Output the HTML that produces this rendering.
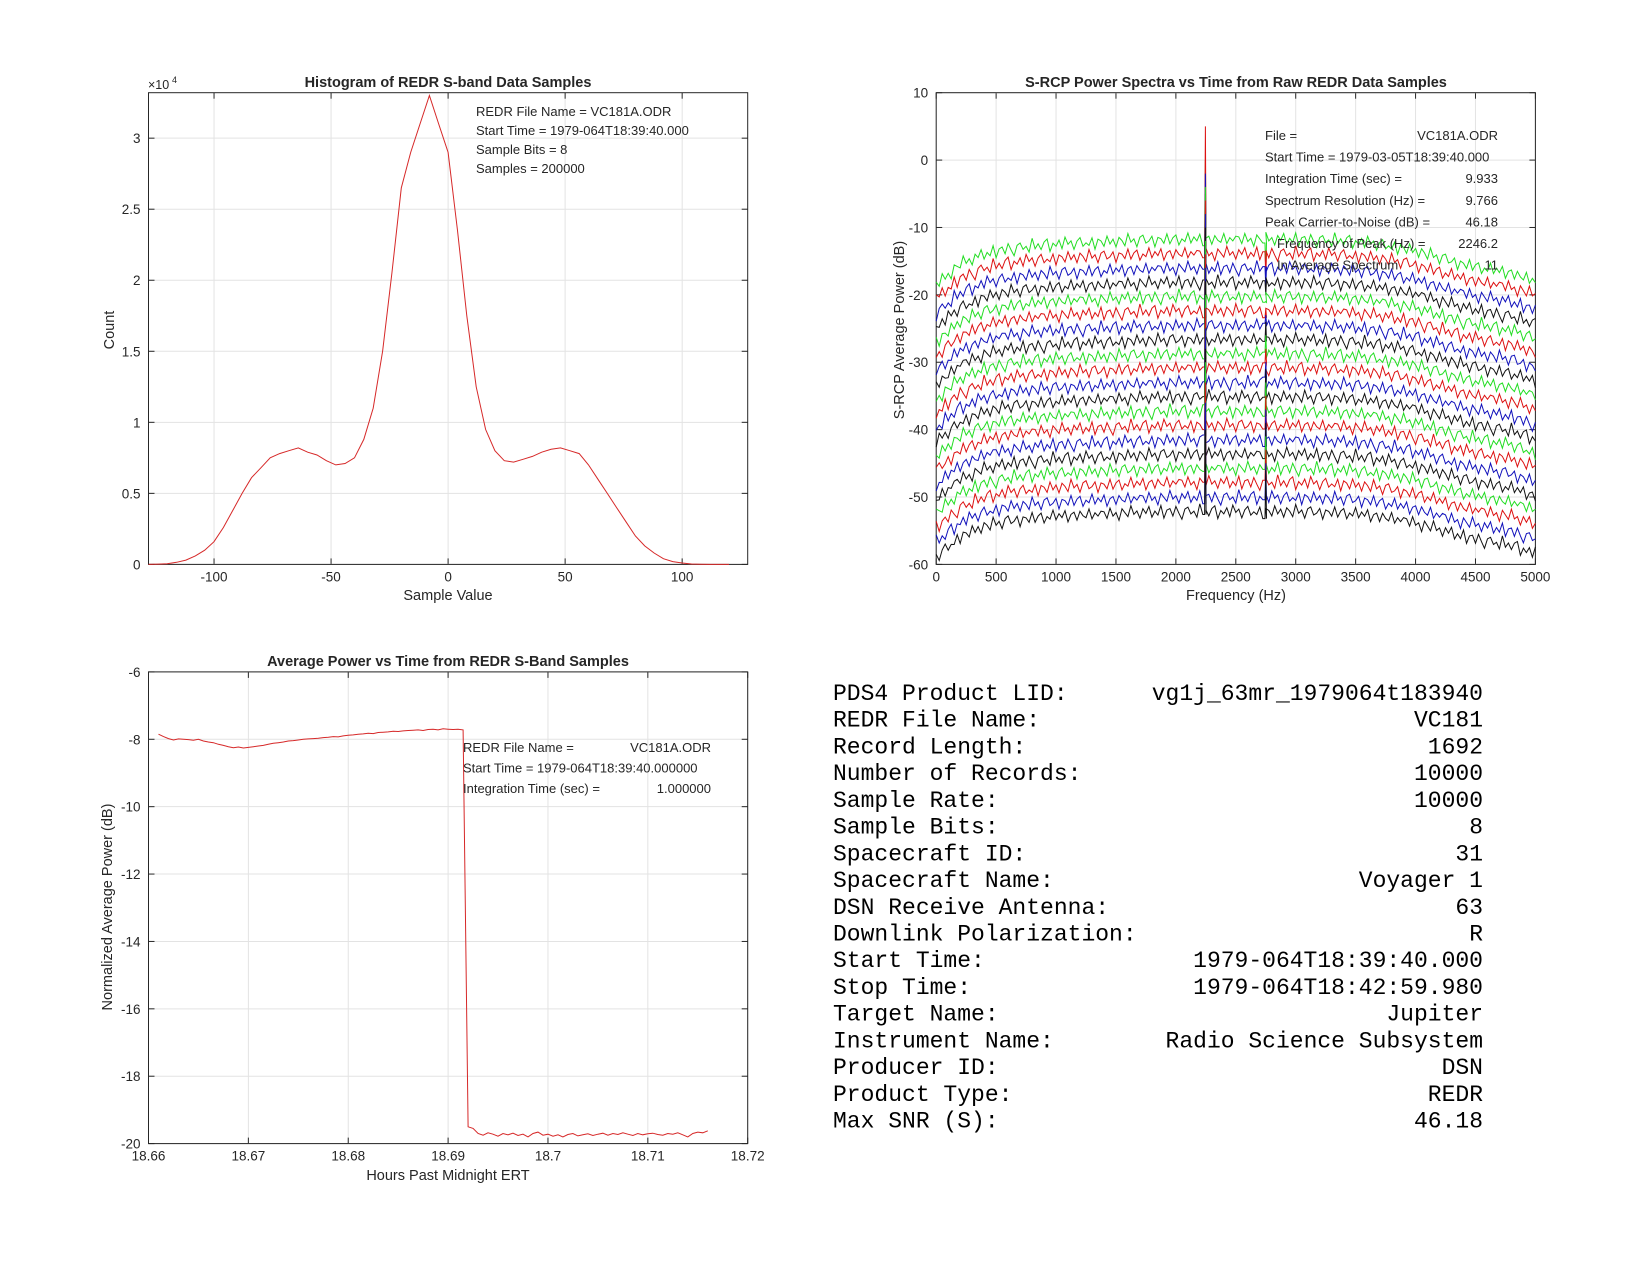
<!DOCTYPE html>
<html><head><meta charset="utf-8"><style>
body{margin:0;background:#fff}
svg{display:block}
text{font-family:"Liberation Sans",sans-serif;fill:#262626}
.mono{font-family:"Liberation Mono",monospace;font-size:23px;fill:#000}
</style></head><body>
<svg id="s" width="1650" height="1275" viewBox="0 0 1650 1275" xmlns="http://www.w3.org/2000/svg">
<g id="info"></g>
</svg>
<script>
// ---------- Histogram data ----------
const histX = [-128,-124,-120,-116,-112,-108,-104,-100,-96,-92,-88,-84,-80,-76,-72,-68,-64,-60,-56,-52,-48,-44,-40,-36,-32,-28,-24,-20,-16,-12,-8,-4,0,4,8,12,16,20,24,28,32,36,40,44,48,52,56,60,64,68,72,76,80,84,88,92,96,100,104,108,112,116,120];
const histCount = [0,0.002,0.005,0.015,0.03,0.06,0.10,0.16,0.26,0.38,0.50,0.61,0.68,0.75,0.78,0.80,0.82,0.79,0.77,0.73,0.70,0.71,0.75,0.88,1.10,1.50,2.05,2.65,2.90,3.10,3.30,3.10,2.90,2.35,1.75,1.25,0.95,0.80,0.73,0.72,0.74,0.76,0.79,0.81,0.82,0.80,0.78,0.70,0.60,0.50,0.40,0.30,0.20,0.13,0.08,0.04,0.02,0.01,0.003,0.001,0,0,0];
const histXTicks = [-100,-50,0,50,100];
const histYTicks = [0,0.5,1,1.5,2,2.5,3];
const histYLabels = ["0","0.5","1","1.5","2","2.5","3"];

// ---------- Spectrum data ----------
const specProfileF = [0,200,400,600,800,1000,1200,1400,1600,1800,2000,2200,2400,2600,2800,3000,3200,3400,3600,3800,4000,4200,4400,4600,4800,5000];
const specProfileDb = [-18.5,-15.5,-14,-13.2,-12.8,-12.5,-12.3,-12.2,-12.0,-11.9,-11.8,-11.8,-11.8,-11.8,-11.8,-11.8,-11.9,-12.0,-12.3,-12.8,-13.5,-14.5,-15.5,-16.2,-16.8,-18];
const specJitter = [0.4,-0.6,0.9,-0.3,0.2,-1.0,0.7,0.1,-0.5,1.1,-0.2,0.3,-0.8,0.6,-0.1,0.9,-0.7,0.2,-0.4,1.0,-0.9,0.3,0.5,-0.6,0.8,-0.2,-1.1,0.4,0.7,-0.3,0.1,-0.8,1.2,-0.4,0.3,-0.6,0.5,0.9,-1.0,0.2,-0.3,0.6,-0.7,1.0,-0.1,0.4,-0.9,0.3,0.8,-0.5,0.0,-0.4,0.7,-1.0,0.5,0.2,-0.6,0.9,-0.3,0.4,-0.8,0.6,0.1,-0.7,1.1,-0.2,0.3,-0.9,0.5,0.8,-0.4,-0.1,0.6,-1.0,0.4,0.2,-0.5,0.9,-0.6,0.3,0.7,-0.8,0.1,-0.3,1.0,-0.5,0.4,-0.2,0.8,-0.9,0.2,0.5,-0.7,0.6,-0.1,-0.4,0.9,-0.6,0.3,-0.2,0.5];
const specOffsets = [0,-2.1,-4.3,-6.4,-8.5,-10.6,-12.8,-14.9,-17,-19.1,-21.3,-23.4,-25.5,-27.6,-29.8,-31.9,-34,-36.1,-38.3,-40.4];
const specColors = ["#22dd22","#dd1111","#1111bb","#111111"];
const spike1Freq = 2246;
const spike1Peak = [0,5,-2,-5,-4,-6,-8,-10,-12,-14,-16,-18,-20,-22,-25,-28,-30,-33,-36,-40];
const spike2Freq = 2750;
const spike2Peak = [-17,-17.5,-19,-20,-21,-22,-23,-24,-26,-28,-30,-31,-33,-35,-37,-39,-41,-43,-45,-46];
const specXTicks = [0,500,1000,1500,2000,2500,3000,3500,4000,4500,5000];
const specYTicks = [10,0,-10,-20,-30,-40,-50,-60];

// ---------- Power vs time data ----------
const powT0 = 18.661, powDt = 0.0005;
const powVals = [-7.85,-7.92,-7.98,-8.02,-7.99,-8.0,-8.01,-8.03,-8.0,-8.05,
-8.08,-8.1,-8.15,-8.18,-8.22,-8.25,-8.23,-8.26,-8.24,-8.22,
-8.2,-8.18,-8.15,-8.12,-8.1,-8.08,-8.05,-8.04,-8.02,-8.0,
-7.99,-7.98,-7.97,-7.95,-7.94,-7.92,-7.93,-7.9,-7.88,-7.87,
-7.85,-7.84,-7.82,-7.83,-7.8,-7.79,-7.78,-7.76,-7.77,-7.75,
-7.74,-7.73,-7.72,-7.74,-7.71,-7.7,-7.72,-7.69,-7.7,-7.71,
-7.7,-7.72,
-19.5,-19.55,-19.7,-19.75,-19.68,-19.72,-19.78,-19.7,-19.74,-19.69,
-19.76,-19.72,-19.8,-19.7,-19.66,-19.75,-19.72,-19.78,-19.74,-19.8,
-19.73,-19.7,-19.77,-19.74,-19.71,-19.76,-19.72,-19.69,-19.75,-19.7,
-19.73,-19.68,-19.72,-19.76,-19.7,-19.74,-19.71,-19.69,-19.73,-19.75,
-19.7,-19.72,-19.68,-19.74,-19.8,-19.7,-19.66,-19.68,-19.62];
const powXTicks = [18.66,18.67,18.68,18.69,18.7,18.71,18.72];
const powXLabels = ["18.66","18.67","18.68","18.69","18.7","18.71","18.72"];
const powYTicks = [-6,-8,-10,-12,-14,-16,-18,-20];

// ---------- Info table ----------
const infoLabels = ["PDS4 Product LID:","REDR File Name:","Record Length:","Number of Records:","Sample Rate:","Sample Bits:","Spacecraft ID:","Spacecraft Name:","DSN Receive Antenna:","Downlink Polarization:","Start Time:","Stop Time:","Target Name:","Instrument Name:","Producer ID:","Product Type:","Max SNR (S):"];
const infoValues = ["vg1j_63mr_1979064t183940","VC181","1692","10000","10000","8","31","Voyager 1","63","R","1979-064T18:39:40.000","1979-064T18:42:59.980","Jupiter","Radio Science Subsystem","DSN","REDR","46.18"];

const NS="http://www.w3.org/2000/svg";
const svg=document.getElementById('s');
function mk(tag,attrs,parent){const e=document.createElementNS(NS,tag);for(const k in attrs)e.setAttribute(k,attrs[k]);(parent||svg).appendChild(e);return e;}
function txt(s,attrs,parent){const e=mk('text',attrs,parent);e.textContent=s;return e;}

function axes(name,L,R,T,B,xmin,xmax,ymin,ymax,xt,xl,yt,yl){
  const g=mk('g',{});
  
  
  const sx=v=>L+(v-xmin)/(xmax-xmin)*(R-L);
  const sy=v=>B-(v-ymin)/(ymax-ymin)*(B-T);
  xt.forEach((v,i)=>{const x=sx(v);
    const gl=mk('line',{x1:x,x2:x,y1:T,y2:B,stroke:'#e3e3e3','stroke-width':1},g);
    
    
    mk('line',{x1:x,x2:x,y1:B,y2:B-6,stroke:'#262626'},g);
    mk('line',{x1:x,x2:x,y1:T,y2:T+6,stroke:'#262626'},g);
    const t=txt(xl[i],{x:x,y:B+17,'text-anchor':'middle','font-size':13.5},g);
    
    
  });
  yt.forEach((v,i)=>{const y=sy(v);
    const gl=mk('line',{x1:L,x2:R,y1:y,y2:y,stroke:'#e3e3e3','stroke-width':1},g);
    
    
    mk('line',{x1:L,x2:L+6,y1:y,y2:y,stroke:'#262626'},g);
    mk('line',{x1:R,x2:R-6,y1:y,y2:y,stroke:'#262626'},g);
    const t=txt(yl[i],{x:L-8,y:y+5,'text-anchor':'end','font-size':13.5},g);
    
    
  });
  const box=mk('rect',{x:L,y:T,width:R-L,height:B-T,fill:'none',stroke:'#262626','stroke-width':1},g);
  
  
  return {g,sx,sy};
}
function label(s,x,y,name,opts){const t=txt(s,Object.assign({x:x,y:y,'text-anchor':'middle','font-size':14.5},opts||{}));
  
  
  return t;}

// ===== Histogram =====
(function(){
  const A=axes('histogram-axes',148.5,747.7,92.7,564.4,-128,128,0,3.32,histXTicks,histXTicks.map(String),histYTicks,histYLabels);
  const d=histX.map((x,i)=>(i?'L':'M')+A.sx(x).toFixed(1)+','+A.sy(histCount[i]).toFixed(1)).join('');
  const p=mk('path',{d:d,fill:'none',stroke:'#d62828','stroke-width':1},A.g);
  
  
  label('Histogram of REDR S-band Data Samples',448,87,'histogram-title',{'font-weight':'bold'});
  label('Sample Value',448,600,'histogram-x-title');
  label('Count',114,330,'histogram-y-title',{transform:'rotate(-90 114 330)'});
  const e=txt('×10',{x:148,y:89,'font-size':12.5});
  txt('4',{x:172,y:83,'font-size':9});
  const ann=['REDR File Name = VC181A.ODR','Start Time = 1979-064T18:39:40.000','Sample Bits = 8','Samples = 200000'];
  ann.forEach((s,i)=>{const t=txt(s,{x:476,y:116+i*19,'font-size':13});});
})();

// ===== Spectrum =====
(function(){
  const A=axes('spectrum-axes',936.2,1535.4,92.7,564.4,0,5000,-60,10,specXTicks,specXTicks.map(String),specYTicks,specYTicks.map(String));
  function prof(f){for(let j=0;j<specProfileF.length-1;j++){if(f<=specProfileF[j+1]){const a=specProfileF[j],b=specProfileF[j+1];return specProfileDb[j]+(specProfileDb[j+1]-specProfileDb[j])*(f-a)/(b-a);}}return specProfileDb[specProfileDb.length-1];}
  const n=specJitter.length;
  const step=25, nPts=5000/step+1;
  specOffsets.forEach((off,i)=>{
    let pts=[];
    for(let k=0;k<nPts;k++){const f=k*step;
      const v=prof(f)+off+specJitter[(k+13*i)%n];
      pts.push([f,v]);
      if(f<spike1Freq&&f+step>=spike1Freq){pts.push([spike1Freq-6,v]);pts.push([spike1Freq,spike1Peak[i]]);pts.push([spike1Freq+6,v]);}
      if(f<spike2Freq&&f+step>=spike2Freq){pts.push([spike2Freq-6,v]);pts.push([spike2Freq,spike2Peak[i]]);pts.push([spike2Freq+6,v]);}
    }
    const d=pts.map((q,j)=>(j?'L':'M')+A.sx(q[0]).toFixed(1)+','+A.sy(q[1]).toFixed(1)).join('');
    const p=mk('path',{d:d,fill:'none',stroke:specColors[i%4],'stroke-width':1},A.g);
    
    
  });
  label('S-RCP Power Spectra vs Time from Raw REDR Data Samples',1236,87,'spectrum-title',{'font-weight':'bold'});
  label('Frequency (Hz)',1236,600,'spectrum-x-title');
  label('S-RCP Average Power (dB)',904,330,'spectrum-y-title',{transform:'rotate(-90 904 330)'});
  const lab=['File =','Start Time = 1979-03-05T18:39:40.000','Integration Time (sec) =','Spectrum Resolution (Hz) =','Peak Carrier-to-Noise (dB) =','Frequency of Peak (Hz) =','In Average Spectrum'];
  const val=['VC181A.ODR','','9.933','9.766','46.18','2246.2','11'];
  lab.forEach((s,i)=>{const y=140+i*21.6;
    const t=txt(s,{x:i>=5?1277:1265,y:y,'font-size':13});
    if(val[i]){const v=txt(val[i],{x:1498,y:y,'font-size':13,'text-anchor':'end'});}
  });
})();

// ===== Power vs time =====
(function(){
  const A=axes('power-axes',148.5,747.7,671.9,1143.6,18.66,18.72,-20,-6,powXTicks,powXLabels,powYTicks,powYTicks.map(String));
  const d=powVals.map((v,i)=>(i?'L':'M')+A.sx(powT0+i*powDt).toFixed(1)+','+A.sy(v).toFixed(1)).join('');
  const p=mk('path',{d:d,fill:'none',stroke:'#d62828','stroke-width':1},A.g);
  
  
  label('Average Power vs Time from REDR S-Band Samples',448,666,'power-title',{'font-weight':'bold'});
  label('Hours Past Midnight ERT',448,1180,'power-x-title');
  label('Normalized Average Power (dB)',112,907,'power-y-title',{transform:'rotate(-90 112 907)'});
  const lab=['REDR File Name =','Start Time = 1979-064T18:39:40.000000','Integration Time (sec) ='];
  const val=['VC181A.ODR','','1.000000'];
  lab.forEach((s,i)=>{const y=752+i*20.5;
    const t=txt(s,{x:463,y:y,'font-size':13});
    if(val[i]){const v=txt(val[i],{x:711,y:y,'font-size':13,'text-anchor':'end'});}
  });
})();

// ===== Info table =====
(function(){
  const g=document.getElementById('info');
  infoLabels.forEach((s,i)=>{const y=700+i*26.72;
    const a=txt(s,{x:833,y:y,class:'mono'},g);
    const b=txt(infoValues[i],{x:1483,y:y,class:'mono','text-anchor':'end'},g);
  });
})();
</script>
</body></html>
